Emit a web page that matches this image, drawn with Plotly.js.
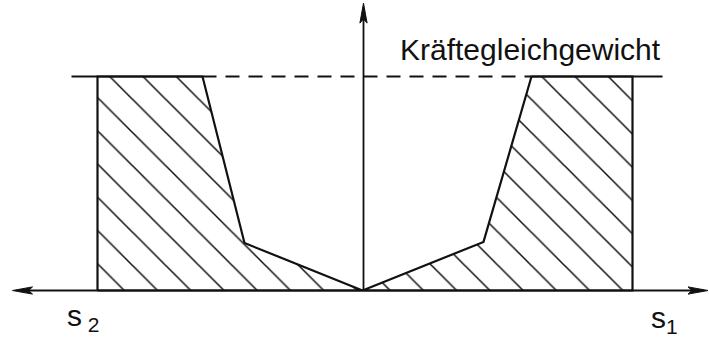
<!DOCTYPE html>
<html>
<head>
<meta charset="utf-8">
<script src="https://cdn.plot.ly/plotly-3.0.1.min.js"></script>
<style>html,body{margin:0;padding:0;background:#fff;}#chart{width:709px;height:339px;}</style>
</head>
<body>
<div id="chart"></div>
<script>
// Displacement s (s2 to the left = negative, s1 to the right = positive), force normalised to equilibrium = 1
const sLeft = [-265, -265, -160, -118, 0, -265];
const forceLeft = [0, 1, 1, 0.222, 0, 0];
const sRight = [0, 121, 169, 270, 270, 0];
const forceRight = [0, 0.227, 1, 1, 0, 0];

const equilibriumLevel = 1;
const equilibriumSolidLeft = [-291, -160];
const equilibriumDashed = [-160, 169];
const equilibriumSolidRight = [169, 300];

const axisXLimits = [-350, 345.5];
const axisYTop = 1.343;

const labelEquilibrium = "Kräftegleichgewicht";
const labelS2 = "s<sub>\u00a02</sub>";
const labelS1 = "s<sub>1</sub>";

// plot geometry: 1 x-unit = 1 px, 1 y-unit = 214 px
const xRange = [-362.5, 346.5];
const yPx = 214;
const yRange = [-(339 - 290.5) / yPx, 290.5 / yPx];
const py = p => (290.5 - p) / yPx;

const ink = '#111';
const hatch = {shape: '\\', size: 23.5, solidity: 0.065, fgcolor: ink, bgcolor: 'white', fgopacity: 1};

const traces = [
  {x: sLeft, y: forceLeft, mode: 'lines', fill: 'toself', fillcolor: 'white', fillpattern: hatch,
   line: {color: ink, width: 2.2}, hoverinfo: 'skip'},
  {x: sRight, y: forceRight, mode: 'lines', fill: 'toself', fillcolor: 'white', fillpattern: hatch,
   line: {color: ink, width: 2.2}, hoverinfo: 'skip'}
];

function arrowHead(tipX, tipY, dir) {
  const L = 20, H = 3.6, N = 4;
  if (dir === 'r') {
    const hy = H / yPx;
    return `M${tipX},${tipY} L${tipX - L},${tipY + hy} L${tipX - L + N},${tipY} L${tipX - L},${tipY - hy} Z`;
  }
  if (dir === 'l') {
    const hy = H / yPx;
    return `M${tipX},${tipY} L${tipX + L},${tipY + hy} L${tipX + L - N},${tipY} L${tipX + L},${tipY - hy} Z`;
  }
  const ly = L / yPx, ny = N / yPx;
  return `M${tipX},${tipY} L${tipX - H},${tipY - ly} L${tipX},${tipY - ly + ny} L${tipX + H},${tipY - ly} Z`;
}

const shapes = [
  {type: 'line', x0: axisXLimits[0] + 6, x1: axisXLimits[1] - 6, y0: 0, y1: 0, line: {color: ink, width: 2.2}},
  {type: 'line', x0: 1, x1: 1, y0: 0, y1: axisYTop - 6 / yPx, line: {color: ink, width: 1.8}},
  {type: 'path', path: arrowHead(axisXLimits[1], 0, 'r'), fillcolor: ink, line: {color: ink, width: 1}},
  {type: 'path', path: arrowHead(axisXLimits[0], 0, 'l'), fillcolor: ink, line: {color: ink, width: 1}},
  {type: 'path', path: arrowHead(1, axisYTop, 'u'), fillcolor: ink, line: {color: ink, width: 1}},
  {type: 'line', x0: equilibriumSolidLeft[0], x1: equilibriumSolidLeft[1], y0: equilibriumLevel, y1: equilibriumLevel, line: {color: ink, width: 2.2}},
  {type: 'line', x0: equilibriumDashed[0], x1: equilibriumDashed[1], y0: equilibriumLevel, y1: equilibriumLevel, line: {color: ink, width: 2, dash: '14px,9px'}},
  {type: 'line', x0: equilibriumSolidRight[0], x1: equilibriumSolidRight[1], y0: equilibriumLevel, y1: equilibriumLevel, line: {color: ink, width: 2.2}}
];

const font = {family: 'Liberation Sans, Arial, sans-serif', color: ink};
const f = s => Object.assign({}, font, {size: s});
const annotations = [
  {x: 167.5, y: py(49), text: labelEquilibrium, showarrow: false, xanchor: 'center', yanchor: 'middle', font: f(30)},
  {x: -297.5, y: py(317), text: labelS2, showarrow: false, xanchor: 'left', yanchor: 'middle', font: f(30)},
  {x: 286, y: py(319), text: labelS1, showarrow: false, xanchor: 'left', yanchor: 'middle', font: f(30)}
];

const layout = {
  width: 709, height: 339,
  margin: {l: 0, r: 0, t: 0, b: 0, pad: 0},
  paper_bgcolor: 'white', plot_bgcolor: 'white',
  showlegend: false,
  xaxis: {range: xRange, visible: false, fixedrange: true},
  yaxis: {range: yRange, visible: false, fixedrange: true},
  shapes: shapes,
  annotations: annotations
};

Plotly.newPlot('chart', traces, layout, {displayModeBar: false, staticPlot: true});
</script>
</body>
</html>
